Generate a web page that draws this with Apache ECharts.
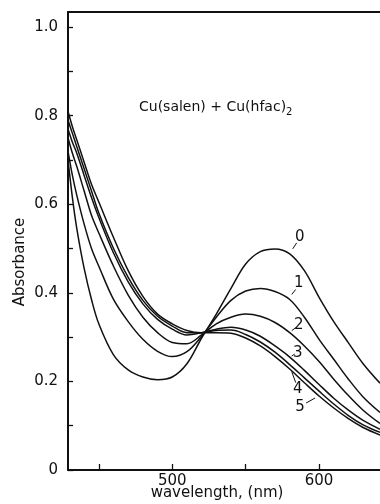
<!DOCTYPE html>
<html>
<head>
<meta charset="utf-8">
<script src="https://cdn.jsdelivr.net/npm/echarts@6/dist/echarts.min.js"></script>
<style>
html, body { margin: 0; padding: 0; background: #fff; }
#chart { width: 380px; height: 504px; }
</style>
</head>
<body>
<div id="chart"></div>
<script>
// sample wavelengths (nm)
var wavelength = [429, 432, 435, 440, 445, 450, 460, 470, 480, 490, 500, 510, 520, 530, 540, 550, 560, 570, 580, 590, 600, 610, 620, 630, 641.5]

// absorbance of each spectrum 0..5
var curve0 = [0.70, 0.615, 0.545, 0.455, 0.385, 0.33, 0.26, 0.226, 0.21, 0.204, 0.21, 0.24, 0.298, 0.352, 0.41, 0.465, 0.493, 0.499, 0.488, 0.45, 0.39, 0.335, 0.287, 0.24, 0.196]
var curve1 = [0.72, 0.665, 0.62, 0.555, 0.5, 0.46, 0.385, 0.335, 0.295, 0.268, 0.256, 0.267, 0.302, 0.345, 0.383, 0.404, 0.41, 0.403, 0.385, 0.345, 0.295, 0.25, 0.205, 0.165, 0.13]
var curve2 = [0.75, 0.715, 0.685, 0.63, 0.575, 0.535, 0.46, 0.395, 0.345, 0.31, 0.288, 0.285, 0.305, 0.33, 0.345, 0.352, 0.347, 0.333, 0.31, 0.28, 0.245, 0.205, 0.168, 0.135, 0.105]
var curve3 = [0.77, 0.74, 0.715, 0.665, 0.615, 0.57, 0.49, 0.425, 0.375, 0.34, 0.318, 0.305, 0.31, 0.318, 0.322, 0.316, 0.302, 0.28, 0.255, 0.225, 0.193, 0.162, 0.135, 0.112, 0.092]
var curve4 = [0.79, 0.76, 0.73, 0.68, 0.63, 0.58, 0.5, 0.435, 0.383, 0.347, 0.325, 0.31, 0.31, 0.315, 0.316, 0.306, 0.289, 0.266, 0.238, 0.208, 0.178, 0.149, 0.123, 0.102, 0.085]
var curve5 = [0.81, 0.775, 0.745, 0.695, 0.645, 0.605, 0.525, 0.45, 0.392, 0.352, 0.33, 0.315, 0.31, 0.31, 0.309, 0.298, 0.28, 0.256, 0.228, 0.197, 0.167, 0.14, 0.116, 0.096, 0.079]

var curveNames = ['0', '1', '2', '3', '4', '5']
var xTicks = [450, 500, 550, 600]
var xLabels = [500, 600]
var yTicks = [0, 0.1, 0.2, 0.3, 0.4, 0.5, 0.6, 0.7, 0.8, 0.9, 1.0]
var yLabels = [0, 0.2, 0.4, 0.6, 0.8, 1.0]

// which sample each number hangs from (index into wavelength)
var tagIndex = [18, 18, 18, 18, 18, 20]

var curves = [curve0, curve1, curve2, curve3, curve4, curve5]
var font = 'DejaVu Sans'
var ink = '#111'

var chart = echarts.init(document.getElementById('chart'))

chart.setOption({
  animation: false,
  backgroundColor: '#fff',
  grid: { left: 68, right: 0, top: 12, bottom: 34, containLabel: false, outerBoundsMode: 'none' },
  title: {
    text: 'Cu(salen) + Cu(hfac){s|2}',
    left: 134,
    top: 93,
    textStyle: {
      fontFamily: font,
      fontSize: 14,
      fontWeight: 'normal',
      color: ink,
      rich: { s: { fontFamily: font, fontSize: 10, color: ink, padding: [9, 0, 0, 0] } }
    }
  },
  xAxis: [{
    type: 'value',
    min: 429,
    max: 641.5,
    name: 'wavelength, (nm)',
    nameLocation: 'middle',
    nameGap: 16,
    nameMoveOverlap: false,
    nameTextStyle: { fontFamily: font, fontSize: 15, color: ink, padding: [0, 14, 0, 0] },
    axisLine: { lineStyle: { color: ink, width: 2 } },
    axisTick: { inside: true, length: 6, customValues: xTicks, lineStyle: { color: ink, width: 1.3 } },
    axisLabel: { customValues: xLabels, fontFamily: font, fontSize: 15, color: ink, margin: 4 },
    splitLine: { show: false }
  }, {
    type: 'value',
    position: 'top',
    min: 429,
    max: 641.5,
    axisLine: { show: true, lineStyle: { color: ink, width: 2 } },
    axisTick: { show: false },
    axisLabel: { show: false },
    splitLine: { show: false }
  }],
  yAxis: {
    type: 'value',
    min: 0,
    max: 1.034,
    axisLine: { show: true, lineStyle: { color: ink, width: 2 } },
    axisTick: { inside: true, length: 5, customValues: yTicks, lineStyle: { color: ink, width: 1.3 } },
    axisLabel: {
      customValues: yLabels,
      fontFamily: font,
      fontSize: 15,
      color: ink,
      margin: 10,
      formatter: function(v) {
        return v === 0 ? '0' : v.toFixed(1)
      }
    },
    splitLine: { show: false }
  },
  series: curves.map(function(vals, k) {
    return {
      name: curveNames[k],
      type: 'line',
      smooth: 0.35,
      showSymbol: false,
      lineStyle: { color: ink, width: 1.5 },
      data: wavelength.map(function(w, i) { return [w, vals[i]] })
    }
  })
})

// curve numbers with short leader lines, placed relative to a point on each curve
var tagOffset = [[10, -17], [9, -16], [9, -8], [8, -4], [8, 25], [-19, 11]]
var leadFrom = [[3, -5], [2, -5], [2, -2], [2, -1], [2, 7], [-4, 2]]
var leadTo = [[7, -11], [6, -10], [6, -5], [5, -3], [6, 18], [-13, 7]]

var graphics = [{
  type: 'text',
  x: 20,
  y: 262,
  rotation: Math.PI / 2,
  style: {
    text: 'Absorbance',
    font: '15px "DejaVu Sans"',
    fill: ink,
    align: 'center',
    verticalAlign: 'middle'
  }
}]

curves.forEach(function(vals, k) {
  var i = tagIndex[k]
  var p = chart.convertToPixel({ seriesIndex: k }, [wavelength[i], vals[i]])
  graphics.push({
    type: 'line',
    shape: {
      x1: p[0] + leadFrom[k][0], y1: p[1] + leadFrom[k][1],
      x2: p[0] + leadTo[k][0], y2: p[1] + leadTo[k][1]
    },
    style: { stroke: ink, lineWidth: 1 }
  })
  graphics.push({
    type: 'text',
    x: p[0] + tagOffset[k][0],
    y: p[1] + tagOffset[k][1],
    style: {
      text: curveNames[k],
      font: '15px "DejaVu Sans"',
      fill: ink,
      align: 'center',
      verticalAlign: 'middle'
    }
  })
})

chart.setOption({ graphic: graphics })
</script>
</body>
</html>
